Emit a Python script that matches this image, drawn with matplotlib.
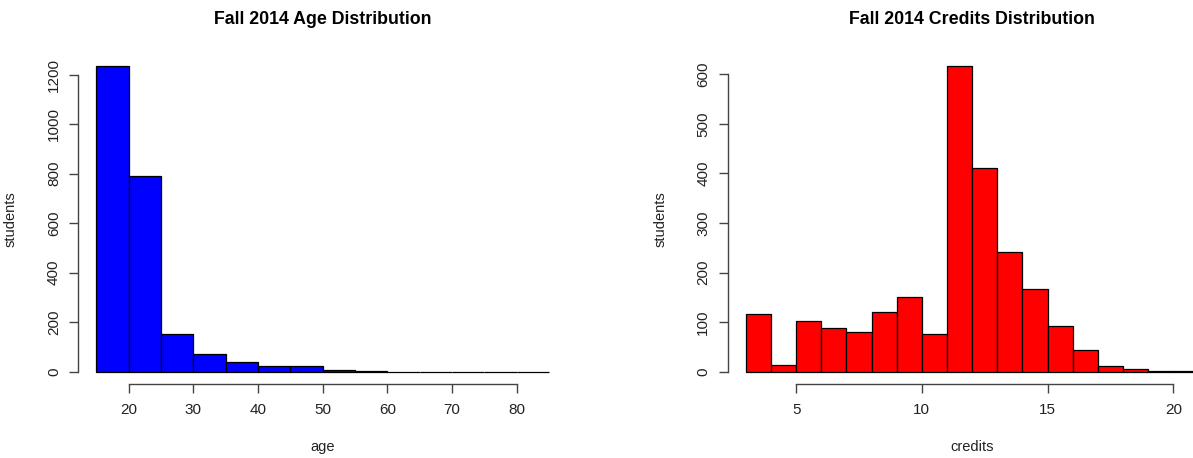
import numpy as np
import matplotlib
matplotlib.use("Agg")
import matplotlib.pyplot as plt

plt.rcParams['font.family'] = ['Liberation Sans', 'DejaVu Sans']

# age histogram: bin edges (5-year bins) and student counts
age_edges = [15, 20, 25, 30, 35, 40, 45, 50, 55, 60, 65, 70, 75, 80, 85]
age_counts = [1236, 792, 152, 73, 39, 23, 23, 9, 4, 1, 1, 0, 0, 1]
age_ticks = [20, 30, 40, 50, 60, 70, 80]
age_yticks = [0, 200, 400, 600, 800, 1000, 1200]

# credits histogram: 1-credit bins
credit_edges = list(range(3, 22))
credit_counts = [116, 13, 103, 88, 80, 120, 151, 77, 617, 411, 241, 166,
                 93, 43, 11, 5, 1, 1]
credit_ticks = [5, 10, 15, 20]
credit_yticks = [0, 100, 200, 300, 400, 500, 600]

axis_col = '#444444'


def r_hist(ax, edges, counts, color, xticks, yticks, title, xlabel):
    """Draw a histogram styled like base R's hist()"""
    edges = np.array(edges)
    counts = np.array(counts)
    ax.bar(edges[:-1], counts, width=np.diff(edges), align='edge',
           color=color, edgecolor='black', linewidth=0.9)

    # R pads the data range by 4% on each side
    xr = edges[-1] - edges[0]
    ax.set_xlim(edges[0] - 0.04 * xr, edges[-1] + 0.04 * xr)
    ym = counts.max()
    ax.set_ylim(-0.04 * ym, 1.04 * ym)

    ax.spines['top'].set_visible(False)
    ax.spines['right'].set_visible(False)
    ax.spines['left'].set_bounds(yticks[0], yticks[-1])
    ax.spines['bottom'].set_bounds(xticks[0], xticks[-1])
    for s in ['left', 'bottom']:
        ax.spines[s].set_color(axis_col)
        ax.spines[s].set_linewidth(1.0)

    ax.set_xticks(xticks)
    ax.set_yticks(yticks)
    ax.tick_params(direction='out', length=6.5, width=1.0, color=axis_col,
                   labelsize=11, labelcolor='#222222')
    ax.tick_params(axis='x', pad=7.5)
    ax.tick_params(axis='y', pad=6, labelrotation=90)
    for lab in ax.get_yticklabels():
        lab.set_va('center')

    ax.set_ylabel('students', fontsize=10.5, color='#222222')
    ax.yaxis.set_label_coords(-0.124, 0.5)
    ax.set_xlabel(xlabel, fontsize=10.5, color='#222222', va='center')
    ax.xaxis.set_label_coords(0.5, -0.19)

    ax.text(0.5, 1.103, title, transform=ax.transAxes, ha='center',
            va='center', fontsize=12.8, fontweight='bold')


fig = plt.figure(figsize=(11.93, 4.58), dpi=100)
ax1 = fig.add_axes([0.0657, 0.1616, 0.4096, 0.7214])
ax2 = fig.add_axes([0.610, 0.1616, 0.4097, 0.7214])

r_hist(ax1, age_edges, age_counts, '#0000ff', age_ticks, age_yticks,
       'Fall 2014 Age Distribution', 'age')
r_hist(ax2, credit_edges, credit_counts, '#ff0000', credit_ticks,
       credit_yticks, 'Fall 2014 Credits Distribution', 'credits')

fig.savefig('out.png', dpi=100)
